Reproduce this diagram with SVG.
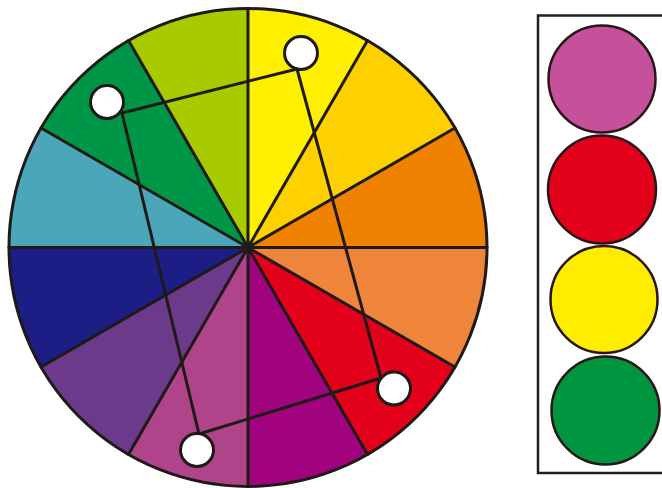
<svg xmlns="http://www.w3.org/2000/svg" width="662" height="488" viewBox="0 0 662 488">
<style>
.sec{stroke:none}
.ln{stroke:#1f1a17;stroke-width:3;fill:none;stroke-linecap:round}
.dot{fill:#fff;stroke:#1f1a17;stroke-width:3}
.sw{stroke:#2a1518;stroke-width:2.5}
</style>
<rect width="662" height="488" fill="#fff"/>
<g id="wheel">
<path class="sec" fill="#FFF000" d="M248 247.5 L248 8.5 A239 239 0 0 1 367.5 40.52 Z"/>
<path class="sec" fill="#FDD000" d="M248 247.5 L367.5 40.52 A239 239 0 0 1 454.98 128 Z"/>
<path class="sec" fill="#EF8200" d="M248 247.5 L454.98 128 A239 239 0 0 1 487 247.5 Z"/>
<path class="sec" fill="#EE853A" d="M248 247.5 L487 247.5 A239 239 0 0 1 454.98 367 Z"/>
<path class="sec" fill="#E3001B" d="M248 247.5 L454.98 367 A239 239 0 0 1 367.5 454.48 Z"/>
<path class="sec" fill="#A1037F" d="M248 247.5 L367.5 454.48 A239 239 0 0 1 248 486.5 Z"/>
<path class="sec" fill="#B0448B" d="M248 247.5 L248 486.5 A239 239 0 0 1 128.5 454.48 Z"/>
<path class="sec" fill="#6C3A8A" d="M248 247.5 L128.5 454.48 A239 239 0 0 1 41.02 367 Z"/>
<path class="sec" fill="#1D1E85" d="M248 247.5 L41.02 367 A239 239 0 0 1 9 247.5 Z"/>
<path class="sec" fill="#4AA6B8" d="M248 247.5 L9 247.5 A239 239 0 0 1 41.02 128 Z"/>
<path class="sec" fill="#009647" d="M248 247.5 L41.02 128 A239 239 0 0 1 128.5 40.52 Z"/>
<path class="sec" fill="#A8CB00" d="M248 247.5 L128.5 40.52 A239 239 0 0 1 248 8.5 Z"/>
<g class="ln">
<line x1="248" y1="8.5" x2="248" y2="486.5"/>
<line x1="9" y1="247.5" x2="487" y2="247.5"/>
<line x1="367.5" y1="40.52" x2="128.5" y2="454.48"/>
<line x1="128.5" y1="40.52" x2="367.5" y2="454.48"/>
<line x1="454.98" y1="128" x2="41.02" y2="367"/>
<line x1="41.02" y1="128" x2="454.98" y2="367"/>
<circle cx="248" cy="247.5" r="239"/>
</g>
<circle cx="248" cy="247.5" r="4.5" fill="#1f1a17"/>
</g>
<g id="connectors" class="ln">
<line x1="122" y1="113" x2="297" y2="69"/>
<line x1="297" y1="69" x2="381" y2="378"/>
<line x1="381" y1="378" x2="199" y2="434"/>
<line x1="199" y1="434" x2="122" y2="113"/>
</g>
<g id="marker-yellow"><circle class="dot" cx="301" cy="53" r="16.5"/></g>
<g id="marker-green"><circle class="dot" cx="107" cy="102" r="16.5"/></g>
<g id="marker-pink"><circle class="dot" cx="197" cy="450" r="16.5"/></g>
<g id="marker-red"><circle class="dot" cx="394" cy="388.5" r="16.5"/></g>
<g id="swatches">
<rect x="538" y="15.5" width="140" height="457.5" fill="none" stroke="#231f20" stroke-width="2.5"/>
<circle class="sw" cx="602" cy="79" r="53.5" fill="#C4519A"/>
<circle class="sw" cx="602" cy="189.5" r="54" fill="#E2001A"/>
<circle class="sw" cx="604" cy="299.5" r="53.5" fill="#FFED00"/>
<circle class="sw" cx="605.5" cy="410.5" r="54" fill="#009640"/>
</g>
</svg>
